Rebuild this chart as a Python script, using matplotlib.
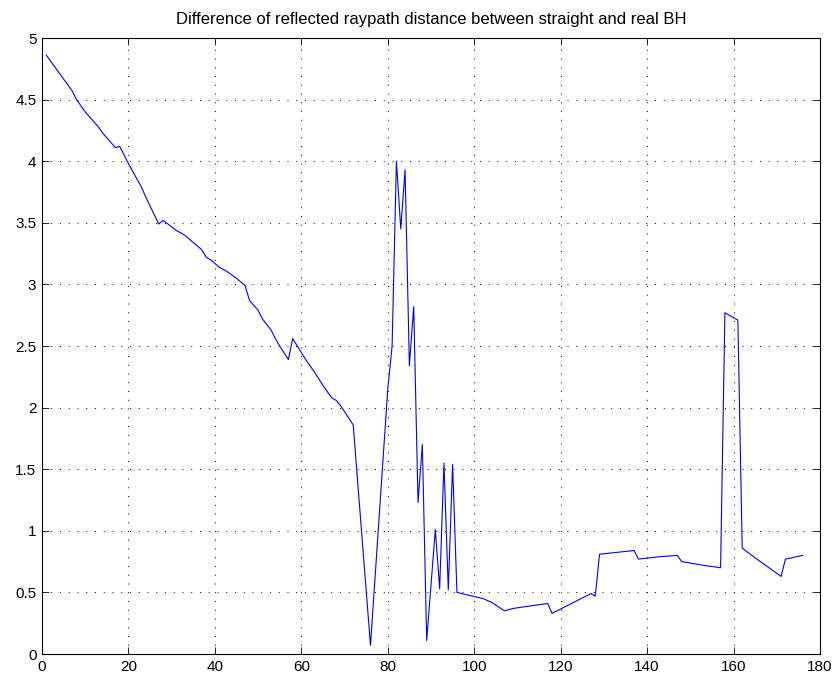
import matplotlib
matplotlib.use("Agg")
import matplotlib.pyplot as plt

x = [1, 7, 8, 10, 11, 13, 14, 17, 18, 20, 23, 24, 27, 28, 31, 33, 34, 37, 38, 39,
     41, 43, 45, 47, 48, 50, 51, 53, 54, 55, 57, 58, 61, 63, 65, 67, 68, 69, 72, 76,
     80, 81, 82, 83, 84, 85, 86, 87, 88, 89, 91, 92, 93, 94, 95, 96, 102, 104, 107, 109,
     113, 117, 118, 127, 128, 129, 137, 138, 143, 147, 148, 153, 157, 158, 161, 162, 165, 171, 172, 176]
y = [4.86, 4.57, 4.50, 4.40, 4.36, 4.28, 4.23, 4.11, 4.12, 3.98, 3.79, 3.71, 3.49, 3.52, 3.44, 3.40, 3.37, 3.28, 3.22, 3.20,
     3.14, 3.10, 3.05, 2.99, 2.87, 2.79, 2.72, 2.63, 2.56, 2.50, 2.39, 2.56, 2.39, 2.29, 2.18, 2.08, 2.06, 2.02, 1.86, 0.07,
     2.15, 2.50, 4.00, 3.45, 3.93, 2.34, 2.82, 1.23, 1.70, 0.11, 1.01, 0.53, 1.55, 0.52, 1.54, 0.50, 0.45, 0.42, 0.35, 0.37,
     0.39, 0.41, 0.33, 0.49, 0.47, 0.81, 0.84, 0.77, 0.79, 0.80, 0.75, 0.72, 0.70, 2.77, 2.71, 0.86, 0.78, 0.63, 0.77, 0.80]

title = "Difference of reflected raypath distance between straight and real BH"
xticks = [0, 20, 40, 60, 80, 100, 120, 140, 160, 180]
yticks = [0, 0.5, 1, 1.5, 2, 2.5, 3, 3.5, 4, 4.5, 5]
yticklabels = ["0", "0.5", "1", "1.5", "2", "2.5", "3", "3.5", "4", "4.5", "5"]

plt.rcParams['font.family'] = ['Liberation Sans', 'DejaVu Sans']

fig = plt.figure(figsize=(8.36, 6.77), dpi=100)
ax = fig.add_axes([42/836, 23/677, 778/836, 616/677])
ax.plot(x, y, color=(0, 0, 1), linewidth=0.8)
ax.set_xlim(0, 180)
ax.set_ylim(0, 5)
ax.set_xticks(xticks)
ax.set_yticks(yticks)
ax.set_yticklabels(yticklabels)
ax.tick_params(direction='in', top=True, right=True, length=5, width=0.6, labelsize=11, pad=4)
ax.grid(True, linestyle=(0, (1, 8)), color='black', linewidth=0.7)
for s in ax.spines.values():
    s.set_linewidth(0.8)
ax.set_title(title, fontsize=12, pad=10)
fig.savefig("out.png", dpi=100)
